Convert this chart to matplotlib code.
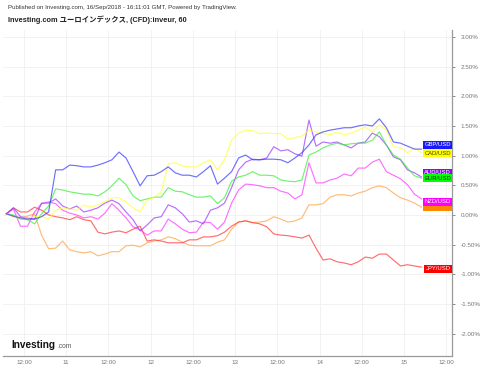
import numpy as np
import matplotlib
matplotlib.use("Agg")
import matplotlib.pyplot as plt
import matplotlib.transforms as mtransforms

# hours since 10/Sep 00:00 (hourly chart, sampled every 2 h)
hours = np.arange(7, 127, 2)

gbp = [0.02, -0.02, -0.05, -0.07, -0.07, -0.03, 0.05, 0.76, 0.76, 0.84,
       0.83, 0.81, 0.81, 0.84, 0.88, 0.93, 1.06, 0.96, 0.73, 0.49,
       0.66, 0.67, 0.73, 0.81, 0.71, 0.67, 0.67, 0.64, 0.73, 0.83,
       0.52, 0.62, 0.73, 0.96, 1.01, 0.93, 0.93, 0.94, 0.94, 0.93,
       0.88, 0.96, 1.05, 1.18, 1.35, 1.40, 1.43, 1.45, 1.47, 1.47,
       1.50, 1.52, 1.50, 1.62, 1.47, 1.23, 1.21, 1.16, 1.11, 1.11]
cad = [0.02, -0.02, -0.05, -0.05, -0.03, -0.02, -0.07, 0.08, 0.12, 0.10,
       0.08, 0.17, 0.13, 0.17, 0.22, 0.29, 0.29, 0.22, 0.12, 0.05,
       0.25, 0.30, 0.39, 0.86, 0.88, 0.83, 0.81, 0.81, 0.88, 0.93,
       0.76, 0.93, 1.26, 1.38, 1.43, 1.42, 1.37, 1.38, 1.37, 1.37,
       1.28, 1.30, 1.33, 1.43, 1.40, 1.38, 1.35, 1.40, 1.35, 1.38,
       1.43, 1.48, 1.40, 1.52, 1.43, 1.15, 1.13, 1.05, 1.13, 1.05]
eur = [0.02, 0.00, -0.07, -0.08, -0.15, 0.02, 0.15, 0.44, 0.42, 0.39,
       0.37, 0.35, 0.35, 0.32, 0.39, 0.49, 0.62, 0.51, 0.32, 0.24,
       0.27, 0.30, 0.30, 0.46, 0.40, 0.39, 0.34, 0.30, 0.30, 0.32,
       0.19, 0.29, 0.57, 0.64, 0.67, 0.73, 0.67, 0.67, 0.66, 0.59,
       0.57, 0.56, 0.59, 1.01, 1.06, 1.13, 1.18, 1.21, 1.18, 1.20,
       1.21, 1.21, 1.26, 1.40, 1.18, 1.01, 0.94, 0.79, 0.66, 0.62]
aud = [0.02, 0.12, -0.03, -0.05, -0.07, 0.20, 0.20, 0.27, 0.15, 0.10,
       0.15, 0.05, 0.08, 0.12, 0.20, 0.25, 0.19, 0.05, -0.08, -0.27,
       -0.17, -0.05, -0.03, 0.17, 0.12, 0.02, -0.12, -0.10, -0.15, 0.08,
       0.12, 0.20, 0.46, 0.76, 0.89, 0.94, 0.93, 0.96, 1.15, 1.08,
       1.10, 1.03, 0.99, 1.60, 1.16, 1.23, 1.21, 1.23, 1.18, 1.13,
       1.21, 1.23, 1.38, 1.32, 1.18, 0.98, 0.93, 0.76, 0.71, 0.64]
nzd = [0.02, 0.10, -0.19, -0.19, 0.05, 0.19, 0.22, 0.19, 0.08, 0.03,
       0.00, -0.05, -0.03, -0.07, 0.03, 0.19, 0.08, -0.05, -0.20, -0.25,
       -0.34, -0.27, -0.27, -0.07, -0.15, -0.24, -0.30, -0.29, -0.12, -0.13,
       -0.24, -0.12, 0.20, 0.42, 0.52, 0.51, 0.49, 0.46, 0.46, 0.40,
       0.37, 0.27, 0.34, 0.88, 0.54, 0.54, 0.59, 0.62, 0.69, 0.66,
       0.79, 0.79, 0.89, 0.94, 0.73, 0.67, 0.61, 0.51, 0.35, 0.27]
chf = [0.02, -0.03, -0.05, -0.02, 0.02, -0.34, -0.57, -0.56, -0.44, -0.59,
       -0.62, -0.64, -0.62, -0.69, -0.66, -0.62, -0.62, -0.52, -0.51, -0.54,
       -0.47, -0.44, -0.42, -0.37, -0.40, -0.46, -0.51, -0.52, -0.52, -0.52,
       -0.46, -0.42, -0.24, -0.12, -0.10, -0.13, -0.12, -0.10, -0.03, -0.07,
       -0.12, -0.10, -0.05, 0.17, 0.17, 0.19, 0.30, 0.34, 0.34, 0.32,
       0.37, 0.40, 0.46, 0.49, 0.46, 0.37, 0.29, 0.25, 0.20, 0.13]
jpy = [0.02, 0.12, 0.05, 0.05, 0.13, 0.08, 0.00, -0.03, -0.05, -0.08,
       -0.03, -0.08, -0.10, -0.29, -0.32, -0.29, -0.27, -0.30, -0.24, -0.19,
       -0.44, -0.42, -0.44, -0.47, -0.47, -0.47, -0.42, -0.42, -0.37, -0.37,
       -0.35, -0.29, -0.19, -0.12, -0.10, -0.13, -0.15, -0.20, -0.32, -0.34,
       -0.35, -0.37, -0.39, -0.34, -0.56, -0.76, -0.74, -0.79, -0.81, -0.84,
       -0.79, -0.71, -0.73, -0.66, -0.66, -0.76, -0.86, -0.84, -0.86, -0.88]

names = ["CHF/USD", "JPY/USD", "NZD/USD", "AUD/USD", "EUR/USD", "CAD/USD", "GBP/USD"]
series = [chf, jpy, nzd, aud, eur, cad, gbp]
line_colors = ["#ffa040", "#ff3030", "#ff33ff", "#9933ff", "#33ee33", "#ffff33", "#3333ff"]
box_colors = ["#ff8800", "#ff0000", "#ff00ff", "#9900ff", "#00ff00", "#ffff00", "#1a1aff"]
text_colors = ["#ff8800", "white", "white", "white", "#222222", "#444400", "white"]
label_y = [0.13, -0.91, 0.22, 0.71, 0.62, 1.04, 1.18]

xtick_pos = [12, 24, 36, 48, 60, 72, 84, 96, 108, 120, 132]
xtick_labels = ["12:00", "11", "12:00", "12", "12:00", "13", "12:00", "14", "12:00", "15", "12:00"]
ytick_pos = [-2.0, -1.5, -1.0, -0.5, 0.0, 0.5, 1.0, 1.5, 2.0, 2.5, 3.0]

fig = plt.figure(figsize=(4.8, 3.69), dpi=100)
ax = fig.add_axes([0.006, 0.035, 0.936, 0.884])

for name, vals, c in zip(names, series, line_colors):
    ax.plot(hours, vals, color=c, lw=0.85, alpha=0.7)

trans = mtransforms.blended_transform_factory(ax.transAxes, ax.transData)
for name, ly, bc, tc in zip(names, label_y, box_colors, text_colors):
    ax.text(0.997, ly, name, transform=trans, ha="right", va="center",
            fontsize=4.2, family="Liberation Sans", color=tc,
            bbox=dict(boxstyle="square,pad=0.25", fc=bc, ec="none"))

ax.set_xlim(6.0, 133.7)
ax.set_ylim(-2.38, 3.12)
ax.set_xticks(xtick_pos)
ax.set_xticklabels(xtick_labels)
ax.set_yticks(ytick_pos)
ax.set_yticklabels(["%.2f%%" % v for v in ytick_pos])
ax.yaxis.tick_right()
ax.tick_params(axis="both", labelsize=4.5, colors="#777777", length=2.5, width=0.6)
ax.tick_params(axis="x", length=0, pad=3)
for lab in ax.get_xticklabels():
    lab.set_family("Liberation Sans")
for lab in ax.get_yticklabels():
    lab.set_family("Liberation Sans")
ax.grid(True, color="#f0f0f0", lw=0.6)
ax.set_axisbelow(True)
for s in ["top", "left"]:
    ax.spines[s].set_visible(False)
for s in ["right", "bottom"]:
    ax.spines[s].set_color("#999999")
    ax.spines[s].set_linewidth(0.9)

fig.text(8 / 480, 1 - 7 / 369, "Published on Investing.com, 16/Sep/2018 - 16:11:01 GMT, Powered by TradingView.",
         fontsize=4.4, family="Liberation Sans", color="#333333", va="center")
fig.text(8 / 480, 1 - 20 / 369, "Investing.com ユーロインデックス, (CFD):inveur, 60",
         fontsize=5.3, family=["Liberation Sans", "Noto Sans CJK JP"], weight="bold",
         color="#222222", va="center")
fig.text(11 / 480, 1 - 345 / 369, "Investing", fontsize=7.2, family="Liberation Sans",
         weight="bold", color="#111111", va="center")
fig.text(57 / 480, 1 - 346 / 369, ".com", fontsize=4.8, family="Liberation Sans",
         color="#555555", va="center")

fig.savefig("out.png", dpi=100)
